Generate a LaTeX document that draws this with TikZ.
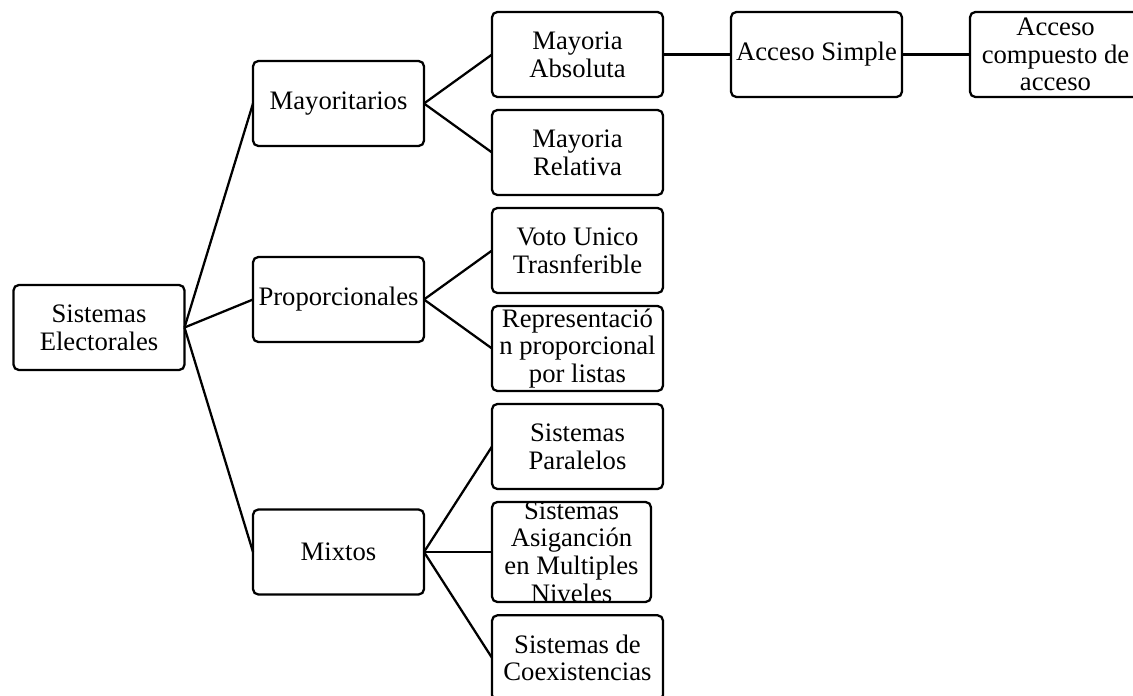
\documentclass[tikz,border=0pt]{standalone}
\usepackage{fontspec}
\setmainfont{Liberation Serif}
\usetikzlibrary{positioning}

\tikzset{
  box/.style={draw, rounded corners=4pt, line width=1.7pt, minimum width=128.25pt, minimum height=63.75pt, inner sep=0pt, outer sep=0pt},
  txt/.style={align=center, font=\fontsize{20}{20.8}\selectfont, inner sep=0pt},
  link/.style={line width=1.7pt},
}

\begin{document}
\begin{tikzpicture}[x=0.75pt, y=-0.75pt]
\useasboundingbox (0,0) rectangle (1133,696);
\clip (0,0) rectangle (1133,696);
\node[box, label={[txt]center:{Sistemas\\Electorales}}] (se) at (99,327.5) {};
\node[box, label={[txt]center:{Mayoritarios}}] (mayor) at (338.5,103.5) {};
\node[box, label={[txt]center:{Proporcionales}}] (prop) at (338.5,299.5) {};
\node[box, label={[txt]center:{Mixtos}}] (mixtos) at (338.5,552) {};
\node[box, label={[txt]center:{Mayoria\\Absoluta}}] (mabs) at (577.5,54.5) {};
\node[box, below=9.75pt of mabs, label={[txt]center:{Mayoria\\Relativa}}] (mrel) {};
\node[box, below=9.75pt of mrel, label={[txt]center:{Voto Unico\\Trasnferible}}] (voto) {};
\node[box, below=9.75pt of voto, label={[txt]center:{Representació\\n proporcional\\por listas}}] (listas) {};
\node[box, below=9.75pt of listas, label={[txt]center:{Sistemas\\Paralelos}}] (paral) {};
\node[box, minimum width=119.25pt, minimum height=75pt, below right=9.75pt and 0pt of paral.south west, label={[txt]center:{Sistemas\\Asiganción\\en Multiples\\Niveles}}] (asig) {};
\node[box, below right=10pt and 0pt of asig.south west, label={[txt]center:{Sistemas de\\Coexistencias}}] (coex) {};
\node[box, right=51pt of mabs, label={[txt]center:{Acceso Simple}}] (asimple) {};
\node[box, right=51pt of asimple, label={[txt]center:{Acceso\\compuesto de\\acceso}}] (acomp) {};
\draw[link] (se.east) -- (mayor.west);
\draw[link] (se.east) -- (prop.west);
\draw[link] (se.east) -- (mixtos.west);
\draw[link] (mayor.east) -- (mabs.west);
\draw[link] (mayor.east) -- (mrel.west);
\draw[link] (prop.east) -- (voto.west);
\draw[link] (prop.east) -- (listas.west);
\draw[link] (mixtos.east) -- (paral.west);
\draw[link] (mixtos.east) -- (asig.west);
\draw[link] (mixtos.east) -- (coex.west);
\draw[link] (mabs.east) -- (asimple.west);
\draw[link] (asimple.east) -- (acomp.west);
\end{tikzpicture}
\end{document}
